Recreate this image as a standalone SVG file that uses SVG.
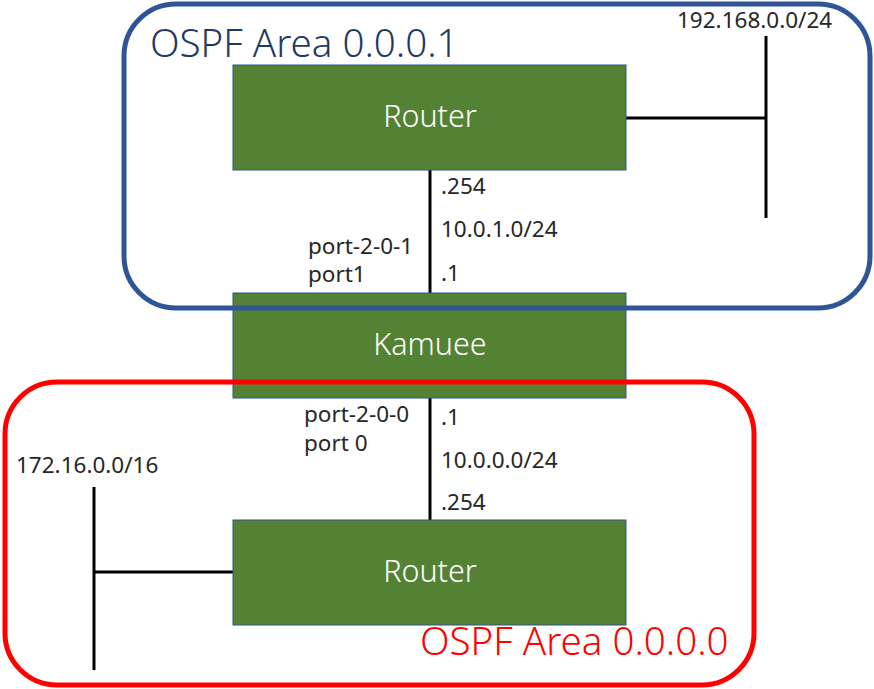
<svg xmlns="http://www.w3.org/2000/svg" width="874" height="689" viewBox="0 0 874 689">
<style>
.box{fill:#548235;stroke:#2F528F;stroke-width:1}
.bt{font-family:"Noto Sans","Liberation Sans",sans-serif;font-size:30.5px;font-weight:300;fill:#ffffff;text-anchor:middle}
.lb{font-family:"Noto Sans","Liberation Sans",sans-serif;font-size:22.5px;font-weight:400;fill:#262626}
.ln{stroke:#000;stroke-width:3;fill:none}
.area{fill:none;stroke-width:5}
.at{font-family:"Noto Sans","Liberation Sans",sans-serif;font-size:38.5px;font-weight:300}
</style>
<rect width="874" height="689" fill="#ffffff"/>
<g id="connectors">
<line class="ln" x1="430" y1="170" x2="430" y2="293"/>
<line class="ln" x1="430" y1="398" x2="430" y2="520"/>
<line class="ln" x1="626" y1="118" x2="766" y2="118"/>
<line class="ln" x1="766" y1="36" x2="766" y2="218"/>
<line class="ln" x1="94" y1="572" x2="233" y2="572"/>
<line class="ln" x1="94" y1="487" x2="94" y2="670"/>
</g>
<g id="router1">
<rect class="box" x="233" y="65" width="393" height="105"/>
<text class="bt" x="430" y="127">Router</text>
</g>
<g id="kamuee">
<rect class="box" x="233" y="293" width="393" height="105"/>
<text class="bt" x="430" y="355">Kamuee</text>
</g>
<g id="router0">
<rect class="box" x="233" y="520" width="393" height="105"/>
<text class="bt" x="430" y="582">Router</text>
</g>
<g id="area1">
<rect class="area" x="124" y="4" width="746" height="304" rx="52" ry="52" stroke="#2F5597"/>
<text class="at" x="150" y="57" fill="#1F3864">OSPF Area 0.0.0.1</text>
</g>
<g id="area0">
<rect class="area" x="5" y="382" width="749" height="303" rx="52" ry="52" stroke="#FF0000"/>
<text class="at" x="420" y="655" fill="#FF0000">OSPF Area 0.0.0.0</text>
</g>
<g id="labels">
<text class="lb" x="677" y="28">192.168.0.0/24</text>
<text class="lb" x="16" y="473">172.16.0.0/16</text>
<text class="lb" x="441" y="194">.254</text>
<text class="lb" x="441" y="237">10.0.1.0/24</text>
<text class="lb" x="441" y="281">.1</text>
<text class="lb" x="308" y="254">port-2-0-1</text>
<text class="lb" x="308" y="282">port1</text>
<text class="lb" x="304" y="422">port-2-0-0</text>
<text class="lb" x="304" y="451">port 0</text>
<text class="lb" x="441" y="425">.1</text>
<text class="lb" x="441" y="468">10.0.0.0/24</text>
<text class="lb" x="441" y="510">.254</text>
</g>
</svg>
